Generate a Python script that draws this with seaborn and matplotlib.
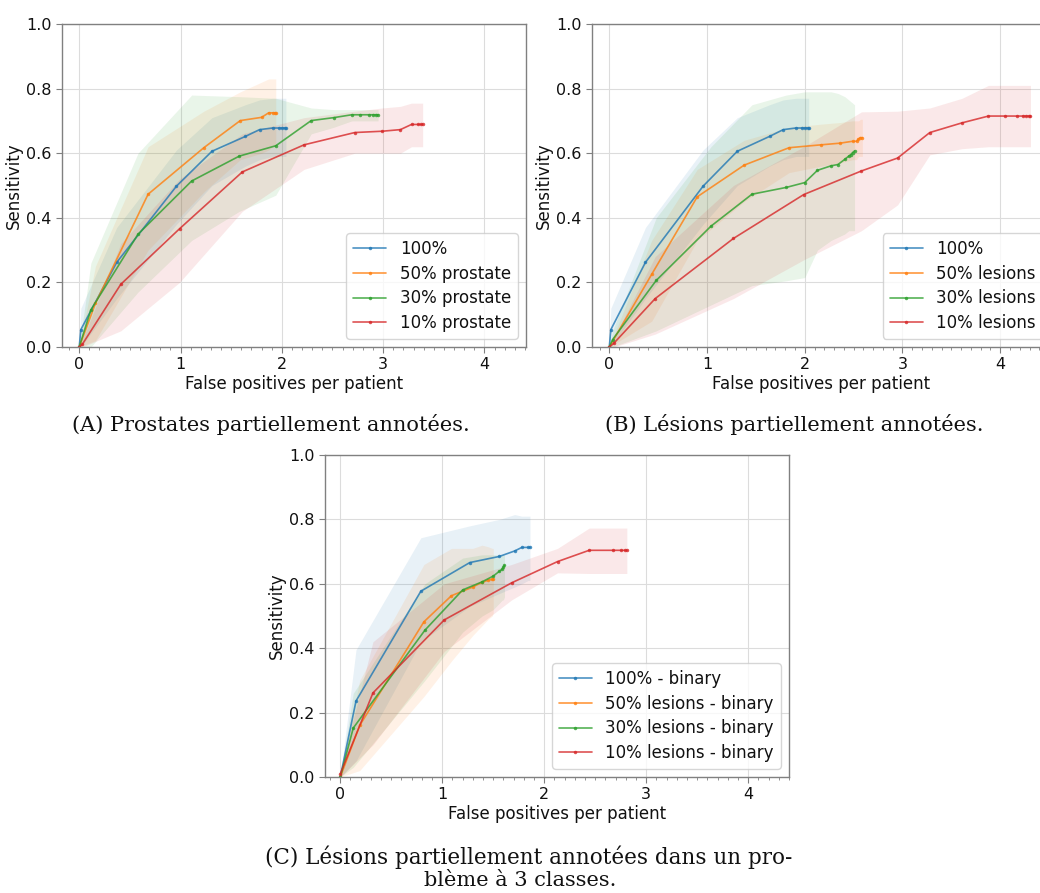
import numpy as np
import pandas as pd
import matplotlib
matplotlib.use("Agg")
import matplotlib.pyplot as plt
from matplotlib.ticker import MultipleLocator
import seaborn as sns

# ---- data ----
# shared 100% model (panels A and B)
full_fp = [0, 0.016, 0.37, 0.96, 1.31, 1.64, 1.78, 1.91, 1.97, 2.00, 2.03, 2.04]
full_se = [0, 0.054, 0.262, 0.498, 0.606, 0.652, 0.673, 0.678, 0.678, 0.678, 0.678, 0.678]
full_lo = [0, 0.0, 0.15, 0.38, 0.50, 0.56, 0.58, 0.59, 0.59, 0.59, 0.59, 0.59]
full_hi = [0, 0.12, 0.37, 0.61, 0.71, 0.75, 0.765, 0.77, 0.77, 0.77, 0.77, 0.77]

# panel A: partially annotated prostates
a50_fp = [0, 0.16, 0.68, 1.23, 1.59, 1.80, 1.87, 1.91, 1.93, 1.94]
a50_se = [0, 0.135, 0.473, 0.617, 0.701, 0.711, 0.725, 0.725, 0.725, 0.725]
a50_lo = [0, 0.02, 0.30, 0.48, 0.58, 0.60, 0.61, 0.62, 0.62, 0.62]
a50_hi = [0, 0.25, 0.62, 0.73, 0.79, 0.82, 0.83, 0.83, 0.83, 0.83]

a30_fp = [0, 0.115, 0.58, 1.11, 1.58, 1.94, 2.29, 2.51, 2.69, 2.77, 2.86, 2.90, 2.93, 2.95]
a30_se = [0, 0.115, 0.349, 0.514, 0.591, 0.623, 0.701, 0.710, 0.719, 0.719, 0.719, 0.719, 0.719, 0.719]
a30_lo = [0, 0.0, 0.17, 0.33, 0.42, 0.47, 0.66, 0.68, 0.70, 0.70, 0.70, 0.70, 0.70, 0.70]
a30_hi = [0, 0.26, 0.60, 0.78, 0.775, 0.77, 0.74, 0.735, 0.735, 0.735, 0.735, 0.735, 0.735, 0.735]

a10_fp = [0, 0.03, 0.41, 0.99, 1.61, 2.22, 2.72, 2.99, 3.17, 3.28, 3.34, 3.37, 3.39]
a10_se = [0, 0.008, 0.194, 0.366, 0.542, 0.626, 0.664, 0.668, 0.673, 0.689, 0.689, 0.689, 0.689]
a10_lo = [0, 0.0, 0.05, 0.20, 0.42, 0.55, 0.60, 0.60, 0.60, 0.62, 0.62, 0.62, 0.62]
a10_hi = [0, 0.02, 0.32, 0.52, 0.66, 0.71, 0.73, 0.74, 0.745, 0.755, 0.755, 0.755, 0.755]

# panel B: partially annotated lesions
b50_fp = [0, 0.434, 0.90, 1.38, 1.84, 2.17, 2.36, 2.49, 2.53, 2.55, 2.57, 2.59]
b50_se = [0, 0.225, 0.465, 0.563, 0.617, 0.626, 0.631, 0.637, 0.637, 0.644, 0.648, 0.648]
b50_lo = [0, 0.08, 0.33, 0.45, 0.54, 0.56, 0.57, 0.58, 0.58, 0.59, 0.59, 0.59]
b50_hi = [0, 0.33, 0.55, 0.64, 0.68, 0.69, 0.695, 0.70, 0.70, 0.70, 0.705, 0.705]

b30_fp = [0, 0.034, 0.48, 1.04, 1.46, 1.81, 2.00, 2.13, 2.27, 2.34, 2.41, 2.45, 2.47, 2.49, 2.51]
b30_se = [0, 0.023, 0.206, 0.374, 0.473, 0.494, 0.509, 0.547, 0.561, 0.565, 0.581, 0.591, 0.595, 0.602, 0.607]
b30_lo = [0, 0.0, 0.05, 0.13, 0.19, 0.205, 0.215, 0.30, 0.33, 0.34, 0.35, 0.36, 0.36, 0.36, 0.36]
b30_hi = [0, 0.05, 0.40, 0.62, 0.75, 0.78, 0.79, 0.79, 0.79, 0.785, 0.775, 0.765, 0.76, 0.755, 0.75]

b10_fp = [0, 0.048, 0.47, 1.27, 1.99, 2.58, 2.95, 3.28, 3.61, 3.88, 4.05, 4.17, 4.23, 4.26, 4.29, 4.31]
b10_se = [0, 0.012, 0.15, 0.336, 0.472, 0.545, 0.585, 0.664, 0.694, 0.715, 0.715, 0.715, 0.715, 0.715, 0.715, 0.715]
b10_lo = [0, 0.0, 0.04, 0.15, 0.27, 0.36, 0.44, 0.595, 0.614, 0.62, 0.62, 0.62, 0.62, 0.62, 0.62, 0.62]
b10_hi = [0, 0.03, 0.28, 0.50, 0.62, 0.728, 0.73, 0.74, 0.77, 0.81, 0.81, 0.81, 0.81, 0.81, 0.81, 0.81]

# panel C: 3-class problem, binary evaluation
c100_fp = [0, 0.154, 0.79, 1.27, 1.56, 1.71, 1.78, 1.84, 1.86]
c100_se = [0, 0.236, 0.577, 0.666, 0.685, 0.702, 0.713, 0.713, 0.713]
c100_lo = [0, 0.05, 0.42, 0.53, 0.57, 0.59, 0.60, 0.61, 0.61]
c100_hi = [0, 0.395, 0.743, 0.78, 0.80, 0.815, 0.81, 0.81, 0.81]

c50_fp = [0, 0.19, 0.82, 1.09, 1.30, 1.39, 1.45, 1.49, 1.50]
c50_se = [0, 0.16, 0.482, 0.563, 0.590, 0.605, 0.611, 0.614, 0.614]
c50_lo = [0, 0.02, 0.25, 0.36, 0.44, 0.47, 0.49, 0.50, 0.51]
c50_hi = [0, 0.30, 0.66, 0.71, 0.71, 0.72, 0.715, 0.71, 0.71]

c30_fp = [0, 0.127, 0.83, 1.20, 1.39, 1.50, 1.56, 1.59, 1.60, 1.61]
c30_se = [0, 0.152, 0.456, 0.581, 0.606, 0.624, 0.639, 0.646, 0.653, 0.657]
c30_lo = [0, 0.03, 0.30, 0.45, 0.50, 0.52, 0.54, 0.55, 0.55, 0.56]
c30_hi = [0, 0.26, 0.60, 0.68, 0.69, 0.69, 0.69, 0.69, 0.69, 0.69]

c10_fp = [0, 0.32, 1.02, 1.68, 2.13, 2.44, 2.67, 2.75, 2.79, 2.81]
c10_se = [0.01, 0.261, 0.488, 0.603, 0.669, 0.704, 0.704, 0.704, 0.704, 0.704]
c10_lo = [0, 0.10, 0.39, 0.55, 0.634, 0.632, 0.632, 0.632, 0.632, 0.632]
c10_hi = [0.02, 0.42, 0.60, 0.66, 0.71, 0.773, 0.773, 0.773, 0.773, 0.773]

labels_a = ["100%", "50% prostate", "30% prostate", "10% prostate"]
labels_b = ["100%", "50% lesions", "30% lesions", "10% lesions"]
labels_c = ["100% - binary", "50% lesions - binary", "30% lesions - binary", "10% lesions - binary"]

captions = ["(A) Prostates partiellement annotées.",
            "(B) Lésions partiellement annotées."]
caption_c = ["(C) Lésions partiellement annotées dans un pro-",
             "blème à 3 classes."]

colors = sns.color_palette("tab10", 4)

sns.set_style("ticks")
plt.rcParams["font.family"] = ["DejaVu Sans"]
plt.rcParams["text.color"] = "#111111"
plt.rcParams["axes.labelcolor"] = "#111111"
plt.rcParams["xtick.labelcolor"] = "#111111"
plt.rcParams["ytick.labelcolor"] = "#111111"


def make_frame(series, labels):
    rows = []
    for (fp, se, lo, hi), lab in zip(series, labels):
        for i in range(len(fp)):
            rows.append({"fp": fp[i], "sens": se[i], "lo": lo[i], "hi": hi[i], "model": lab})
    return pd.DataFrame(rows)


def draw_panel(ax, df, labels, xlim):
    for lab, col in zip(labels, colors):
        d = df[df["model"] == lab]
        ax.fill_between(d["fp"], d["lo"], d["hi"], color=col, alpha=0.1, lw=0)
        sns.lineplot(data=d, x="fp", y="sens", ax=ax, color=col, label=lab,
                     estimator=None, sort=False, marker=".", markersize=5,
                     markeredgewidth=0, lw=1.2, alpha=0.8)
    ax.set_xlim(*xlim)
    ax.set_ylim(0, 1.0)
    ax.xaxis.set_major_locator(MultipleLocator(1))
    ax.xaxis.set_minor_locator(MultipleLocator(0.1))
    ax.yaxis.set_major_locator(MultipleLocator(0.2))
    ax.grid(True, which="major", color="#dcdcdc", lw=0.8)
    ax.set_axisbelow(True)
    for s in ax.spines.values():
        s.set_color("#808080")
        s.set_linewidth(1.0)
    ax.tick_params(axis="both", which="major", labelsize=11.5, length=4, color="#808080", direction="out")
    ax.tick_params(axis="x", which="minor", length=2, color="#808080", direction="out")
    ax.set_xlabel("False positives per patient", fontsize=12, labelpad=2)
    ax.set_ylabel("Sensitivity", fontsize=12, labelpad=2)
    ax.legend(loc="lower right", fontsize=12, frameon=True, fancybox=True,
              framealpha=0.8, edgecolor="#cccccc", labelspacing=0.4)


W, H = 1040, 893
fig = plt.figure(figsize=(W / 100, H / 100), dpi=100)

ax_a = fig.add_axes([62 / W, 1 - 347 / H, 464 / W, 323 / H])
ax_b = fig.add_axes([592 / W, 1 - 347 / H, 459 / W, 323 / H])
ax_c = fig.add_axes([325 / W, 1 - 777 / H, 464 / W, 322 / H])

df_a = make_frame([(full_fp, full_se, full_lo, full_hi), (a50_fp, a50_se, a50_lo, a50_hi),
                   (a30_fp, a30_se, a30_lo, a30_hi), (a10_fp, a10_se, a10_lo, a10_hi)], labels_a)
df_b = make_frame([(full_fp, full_se, full_lo, full_hi), (b50_fp, b50_se, b50_lo, b50_hi),
                   (b30_fp, b30_se, b30_lo, b30_hi), (b10_fp, b10_se, b10_lo, b10_hi)], labels_b)
df_c = make_frame([(c100_fp, c100_se, c100_lo, c100_hi), (c50_fp, c50_se, c50_lo, c50_hi),
                   (c30_fp, c30_se, c30_lo, c30_hi), (c10_fp, c10_se, c10_lo, c10_hi)], labels_c)

draw_panel(ax_a, df_a, labels_a, (-0.17, 4.41))
draw_panel(ax_b, df_b, labels_b, (-0.177, 4.52))
draw_panel(ax_c, df_c, labels_c, (-0.15, 4.40))

serif = ["DejaVu Serif"]
fig.text(271 / W, 1 - 424 / H, captions[0], ha="center", va="center", fontsize=15, family=serif)
fig.text(794 / W, 1 - 424 / H, captions[1], ha="center", va="center", fontsize=15, family=serif)
fig.text(529 / W, 1 - 857 / H, caption_c[0], ha="center", va="center", fontsize=15.5, family=serif)
fig.text(520 / W, 1 - 880 / H, caption_c[1], ha="center", va="center", fontsize=15, family=serif)

fig.savefig("out.png", dpi=100)
